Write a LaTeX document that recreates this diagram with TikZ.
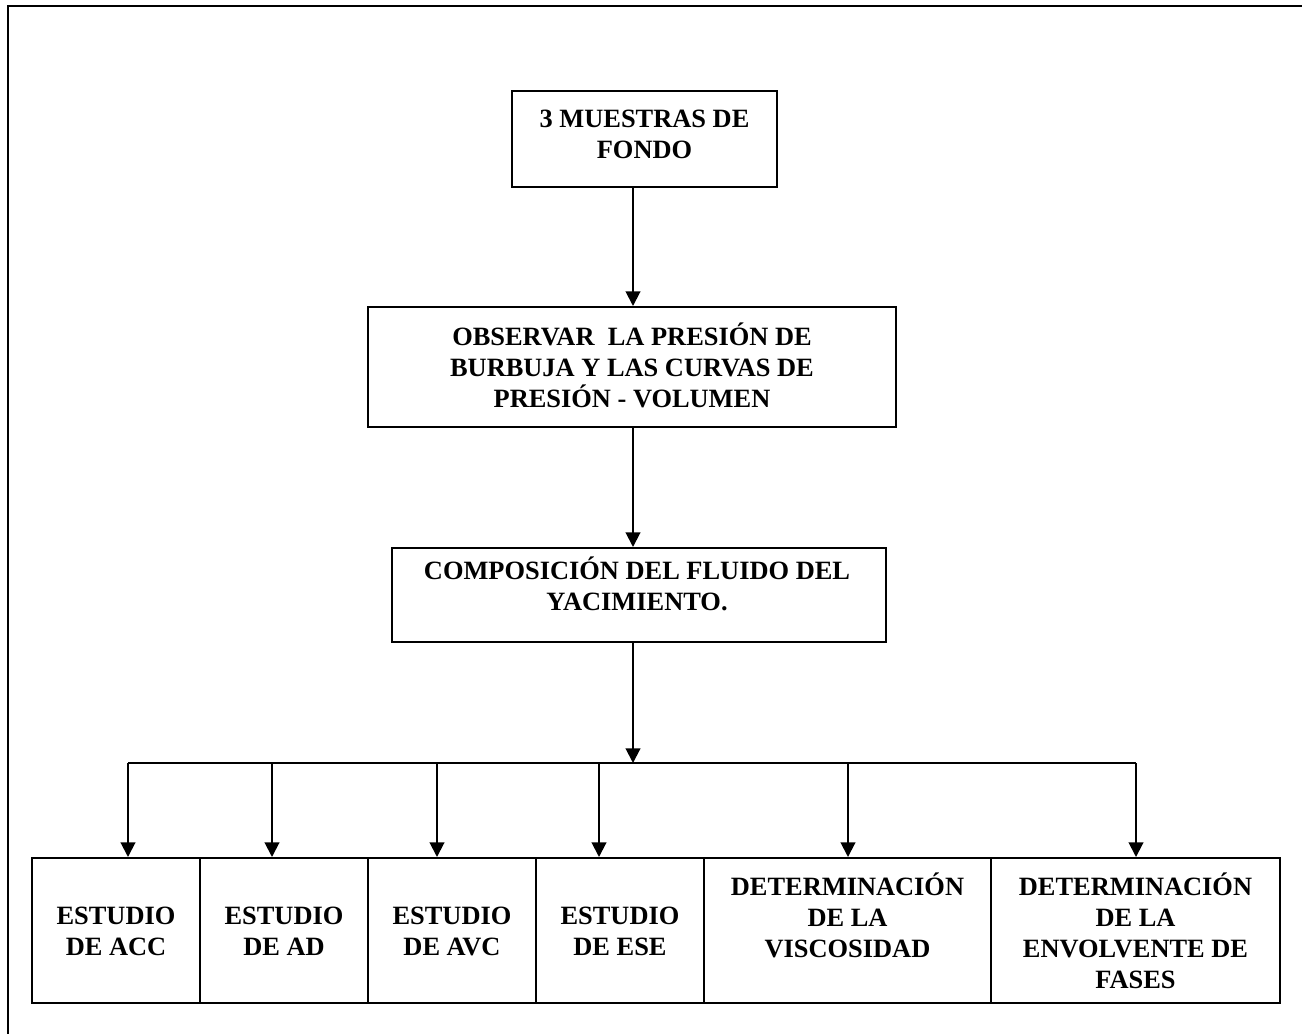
\documentclass[tikz,border=0pt]{standalone}
\usepackage{fontspec}
\setmainfont{Liberation Serif}
\usetikzlibrary{arrows.meta}

\begin{document}
\begin{tikzpicture}[
  x=0.75pt, y=-0.75pt,
  line width=1.5pt,
  box/.style={draw, rectangle, inner sep=0pt, line width=1.5pt},
  txt/.style={align=center, inner sep=0pt,
              font=\bfseries\fontsize{19.8}{23.25}\selectfont},
  arr/.style={-{Triangle[length=11pt,width=11pt]}, line width=1.5pt}
]
\useasboundingbox (0,0) rectangle (1302,1034);
\fill[white] (0,0) rectangle (1302,1034);

% page frame, running off the right and bottom edges
\begin{scope}
  \clip (0,0) rectangle (1302,1034);
  \draw[line width=1.5pt] (8,1040) -- (8,6) -- (1310,6);
\end{scope}

% main chain
\node[box, minimum width=198.75pt, minimum height=72pt] (m1) at (644.5,139) {};
\node[txt] (t1) at (644.5,136.5) {\strut 3 MUESTRAS DE\\ FONDO\strut};

\node[box, minimum width=396pt, minimum height=90pt] (m2) at (632,367) {};
\node[txt] (t2) at (632,369.5) {\strut OBSERVAR\ \ LA PRESIÓN DE\\ BURBUJA Y LAS CURVAS DE\\ PRESIÓN - VOLUMEN\strut};

\node[box, minimum width=370.5pt, minimum height=70.5pt] (m3) at (639,595) {};
\node[txt] (t3) at (637,588.5) {\strut COMPOSICIÓN DEL FLUIDO DEL\\ YACIMIENTO.\strut};

% bottom row
\foreach \n/\cx/\w in {e1/116/126, e2/284/126, e3/452/126, e4/620/126,
                       e5/847.5/215.25, e6/1135.5/216.75}
  \node[box, minimum width=\w pt, minimum height=108.75pt] (\n) at (\cx,930.5) {};

\node[txt] (s1) at (116,933.5) {\strut ESTUDIO\\ DE ACC\strut};
\node[txt] (s2) at (284,933.5) {\strut ESTUDIO\\ DE AD\strut};
\node[txt] (s3) at (452,933.5) {\strut ESTUDIO\\ DE AVC\strut};
\node[txt] (s4) at (620,933.5) {\strut ESTUDIO\\ DE ESE\strut};
\node[txt] (s5) at (847.5,919.5) {\strut DETERMINACIÓN\\ DE LA\\ VISCOSIDAD\strut};
\node[txt] (s6) at (1135.5,935.5) {\strut DETERMINACIÓN\\ DE LA\\ ENVOLVENTE DE\\ FASES\strut};

% connectors
\coordinate (spine) at (633,0);
\coordinate (bus) at (633,763);
\draw[arr] (spine |- m1.south) -- (spine |- m2.north);
\draw[arr] (spine |- m2.south) -- (spine |- m3.north);
\draw[arr] (spine |- m3.south) -- (bus);

\coordinate (a1) at (128,763);
\coordinate (a2) at (272,763);
\coordinate (a3) at (437,763);
\coordinate (a4) at (599,763);
\coordinate (a5) at (848,763);
\coordinate (a6) at (1136,763);
\draw (a1) -- (a6);
\foreach \i in {1,...,6}
  \draw[arr] (a\i) -- (a\i |- e\i.north);
\end{tikzpicture}
\end{document}
